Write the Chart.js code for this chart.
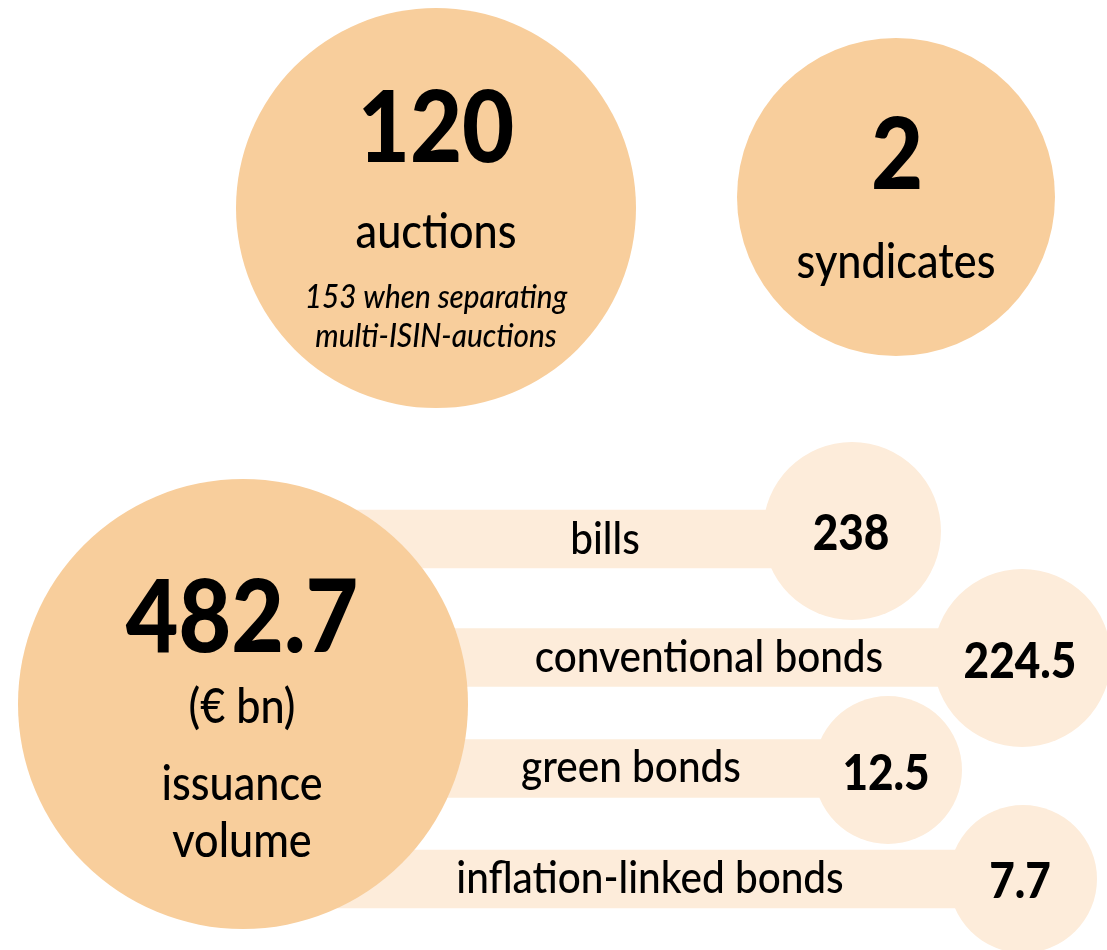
<!DOCTYPE html>
<html>
<head>
<meta charset="utf-8">
<script src="https://cdn.jsdelivr.net/npm/chart.js@4.4.1/dist/chart.umd.min.js"></script>
<style>
  html, body { margin: 0; padding: 0; background: #fff; }
  #wrap { width: 1107px; height: 950px; }
</style>
</head>
<body>
<div id="wrap"><canvas id="chartEmision" width="1107" height="950"></canvas></div>
<script>
// Datos del gráfico
const eventCounts = [120, 2];
const eventNames = ['auctions', 'syndicates'];
const auctionNote = ['153 when separating', 'multi-ISIN-auctions'];
const totalVolume = 482.7;
const totalNames = ['(€ bn)', 'issuance', 'volume'];
const segmentNames = ['bills', 'conventional bonds', 'green bonds', 'inflation-linked bonds'];
const segmentVolumes = [238, 224.5, 12.5, 7.7];

// Posiciones (coordenadas del lienzo 1107x950)
const eventCircles = [{ x: 436, y: 208, r: 200 }, { x: 896, y: 197, r: 159 }];
const totalCircle = { x: 243, y: 704, r: 225 };
const segmentCircles = [
  { x: 852, y: 531, r: 89 },
  { x: 1022, y: 658, r: 89 },
  { x: 888, y: 770, r: 74 },
  { x: 1023, y: 879, r: 74 }
];
const bandY = [539, 657.5, 768.5, 879];
const bandStartX = 243;
const labelPos = [{ x: 605, y: 554 }, { x: 709, y: 672 }, { x: 631, y: 782 }, { x: 650, y: 893 }];
const valuePos = [{ x: 851, y: 550 }, { x: 1020, y: 678 }, { x: 886, y: 790 }, { x: 1020, y: 898 }];

const DARK = '#F8CE9C';
const LIGHT = '#FDECDA';
const FONT = 'Lato, "Noto Sans", sans-serif';
const SX = 0.9; // letra algo condensada

function texto(ctx, str, x, y, font) {
  ctx.save();
  ctx.translate(x, y);
  ctx.scale(SX, 1);
  ctx.font = font;
  ctx.fillStyle = '#000';
  ctx.textAlign = 'center';
  ctx.textBaseline = 'alphabetic';
  ctx.fillText(str, 0, 0);
  ctx.restore();
}

const textPlugin = {
  id: 'textos',
  afterDatasetsDraw(chart) {
    const ctx = chart.ctx;
    const px = v => chart.scales.x.getPixelForValue(v);
    const py = v => chart.scales.y.getPixelForValue(v);

    // Subastas
    texto(ctx, String(eventCounts[0]), px(436), py(162), `900 100px ${FONT}`);
    texto(ctx, eventNames[0], px(436), py(248), `500 48px ${FONT}`);
    texto(ctx, auctionNote[0], px(436), py(308), `italic 500 33px ${FONT}`);
    texto(ctx, auctionNote[1], px(436), py(347), `italic 500 33px ${FONT}`);

    // Sindicatos
    texto(ctx, String(eventCounts[1]), px(897), py(189), `900 100px ${FONT}`);
    texto(ctx, eventNames[1], px(896), py(278), `500 48px ${FONT}`);

    // Volumen total
    texto(ctx, String(totalVolume), px(242), py(652), `900 101px ${FONT}`);
    texto(ctx, totalNames[0], px(242), py(723), `500 48px ${FONT}`);
    texto(ctx, totalNames[1], px(242), py(800), `500 48px ${FONT}`);
    texto(ctx, totalNames[2], px(242), py(857), `500 48px ${FONT}`);

    // Segmentos
    segmentNames.forEach((n, i) => {
      texto(ctx, n, px(labelPos[i].x), py(labelPos[i].y), `500 45px ${FONT}`);
      texto(ctx, String(segmentVolumes[i]), px(valuePos[i].x), py(valuePos[i].y), `900 49px ${FONT}`);
    });
  }
};

new Chart(document.getElementById('chartEmision'), {
  type: 'bubble',
  data: {
    datasets: [
      {
        type: 'bubble',
        data: [{ x: totalCircle.x, y: totalCircle.y, r: totalCircle.r }]
          .concat(eventCircles.map(c => ({ x: c.x, y: c.y, r: c.r }))),
        backgroundColor: DARK,
        borderWidth: 0,
        hoverRadius: 0,
        clip: false,
        order: 1
      },
      {
        type: 'bubble',
        data: segmentCircles.map(c => ({ x: c.x, y: c.y, r: c.r })),
        backgroundColor: LIGHT,
        borderWidth: 0,
        hoverRadius: 0,
        clip: false,
        order: 2
      },
      {
        type: 'bar',
        indexAxis: 'y',
        data: segmentCircles.map((c, i) => ({ x: [bandStartX, c.x], y: bandY[i] })),
        backgroundColor: LIGHT,
        borderWidth: 0,
        barThickness: 58,
        clip: false,
        order: 3
      }
    ]
  },
  options: {
    responsive: false,
    animation: false,
    events: [],
    layout: { padding: 0, autoPadding: false },
    plugins: { legend: { display: false }, tooltip: { enabled: false } },
    scales: {
      x: { type: 'linear', min: 0, max: 1107, offset: false, display: false },
      y: { type: 'linear', min: 0, max: 950, reverse: true, offset: false, display: false }
    }
  },
  plugins: [textPlugin]
});
</script>
</body>
</html>
